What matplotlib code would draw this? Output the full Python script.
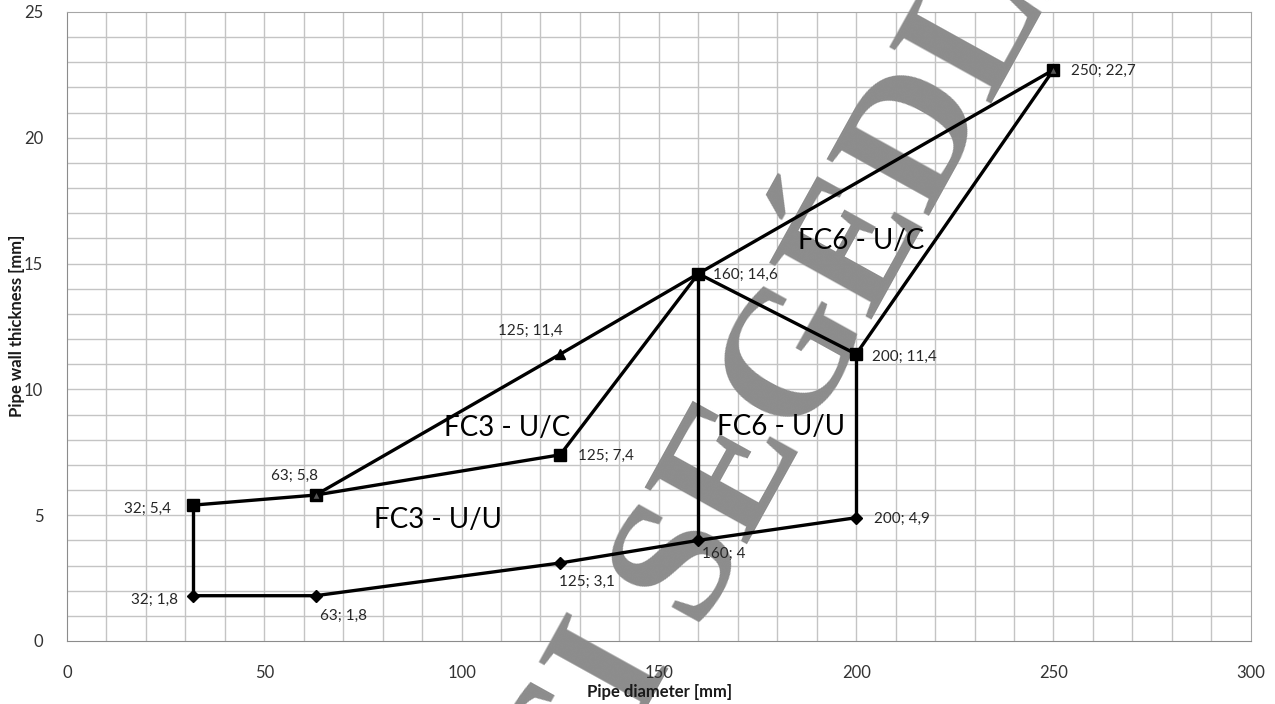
import matplotlib
matplotlib.use('Agg')
import matplotlib.pyplot as plt
import numpy as np

plt.rcParams['font.family'] = ['Lato', 'DejaVu Sans']

# diamond series (lower boundary)
dia_x = [32, 63, 125, 160, 200]
dia_y = [1.8, 1.8, 3.1, 4, 4.9]
# square series
sq_x = [32, 63, 125, 160, 200, 250]
sq_y = [5.4, 5.8, 7.4, 14.6, 11.4, 22.7]
# triangle series
tri_x = [63, 125, 160, 250]
tri_y = [5.8, 11.4, 14.6, 22.7]
# vertical connectors
vert_x = [32, 160, 200]
vert_lo = [1.8, 4, 4.9]
vert_hi = [5.4, 14.6, 11.4]

# point labels: x, y, text, offset in pixels, alignment
lbl_x = [32, 32, 63, 63, 125, 125, 125, 160, 160, 200, 200, 250]
lbl_y = [5.4, 1.8, 5.8, 1.8, 11.4, 7.4, 3.1, 14.6, 4, 11.4, 4.9, 22.7]
lbl_txt = ['32; 5,4', '32; 1,8', '63; 5,8', '63; 1,8', '125; 11,4', '125; 7,4',
           '125; 3,1', '160; 14,6', '160; 4', '200; 11,4', '200; 4,9', '250; 22,7']
lbl_off = [(-22, -4), (-15, -4), (2, 19), (4, -20), (3, 23), (18, -1),
           (-1, -19), (15, -1), (4, -14), (16, -3), (18, -1), (18, -1)]
lbl_ha = ['right', 'right', 'right', 'left', 'right', 'left',
          'left', 'left', 'left', 'left', 'left', 'left']

# zone names
zone_txt = ['FC3 - U/U', 'FC3 - U/C', 'FC6 - U/U', 'FC6 - U/C']
zone_x = [94, 111.5, 181, 201.2]
zone_y = [4.8, 8.45, 8.5, 15.9]

fig = plt.figure(figsize=(12.75, 7.04), dpi=100)
ax = fig.add_axes([0.0525, 0.0895, 0.9285, 0.8935])

ax.set_xlim(0, 300)
ax.set_ylim(0, 25)
ax.set_xticks(np.arange(0, 301, 50))
ax.set_yticks(np.arange(0, 26, 5))
ax.tick_params(length=0, labelsize=12, colors='#333333')
ax.tick_params(axis='x', pad=17)
ax.tick_params(axis='y', pad=17)

# grid drawn by hand so it can sit under the watermark
ax.vlines(np.arange(10, 300, 10), 0, 25, color='#c4c4c4', lw=1, zorder=0.5)
ax.hlines(np.arange(1, 25, 1), 0, 300, color='#c4c4c4', lw=1, zorder=0.5)
for s in ax.spines.values():
    s.set_color('#a6a6a6')
    s.set_zorder(0.6)
ax.spines['bottom'].set_color('#8c8c8c')
ax.spines['left'].set_color('#8c8c8c')

# watermark
wm_x, wm_y = 694 / 1275, 80 / 704
for txt, ha in [('OKTATÁSI ', 'right'), ('SEGÉDLET', 'left')]:
    ax.text(wm_x, wm_y, txt, transform=fig.transFigure, rotation=61,
            rotation_mode='anchor', ha=ha, va='baseline', fontsize=128,
            family='Liberation Serif', weight='bold', color='#8c8c8c',
            zorder=1, clip_on=False)

lw = 2.4
for x, lo, hi in zip(vert_x, vert_lo, vert_hi):
    ax.plot([x, x], [lo, hi], color='black', lw=lw, zorder=2)
ax.plot(dia_x, dia_y, color='black', lw=lw, marker='D', ms=6.5, zorder=2)
ax.plot(tri_x, tri_y, color='black', lw=lw, marker='^', ms=7, zorder=2)
ax.plot(sq_x, sq_y, color='black', lw=lw, marker='s', ms=8.5, zorder=2)
# triangles drawn again on top of squares where they share a point
ax.plot([63, 250], [5.8, 22.7], ls='none', marker='^', ms=6,
        mfc='#555555', mec='black', zorder=2.1)

for x, y, t, off, ha in zip(lbl_x, lbl_y, lbl_txt, lbl_off, lbl_ha):
    ax.annotate(t, (x, y), xytext=off, textcoords='offset pixels',
                ha=ha, va='center', fontsize=11, color='#262626', zorder=3)

for t, x, y in zip(zone_txt, zone_x, zone_y):
    ax.text(x, y, t, ha='center', va='center', fontsize=20, color='black', zorder=3)

fig.text(660 / 1275, 1 - 692 / 704, 'Pipe diameter [mm]', ha='center', va='center',
         fontsize=12, weight='bold', color='#1a1a1a', zorder=5)
fig.text(17 / 1275, 1 - 326 / 704, 'Pipe wall thickness [mm]', ha='center', va='center',
         rotation=90, fontsize=12, weight='bold', color='#1a1a1a')

fig.savefig('out.png', dpi=100)
